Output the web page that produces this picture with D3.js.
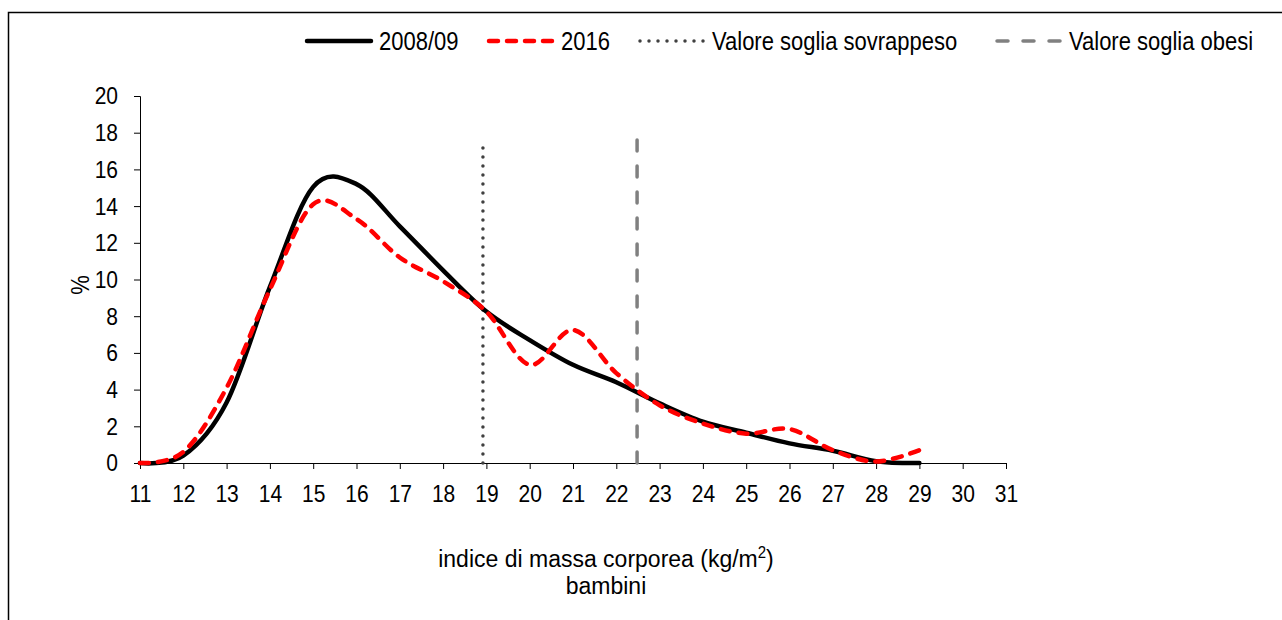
<!DOCTYPE html>
<html>
<head>
<meta charset="utf-8">
<script src="https://cdn.jsdelivr.net/npm/d3@7"></script>
<style>
  body { margin: 0; background: #fff; }
  svg text { font-family: "Liberation Sans", Arial, sans-serif; fill: #000; }
</style>
</head>
<body>
<div id="chart"></div>
<script>
  // data
  let bmi = [11, 12, 13, 14, 15, 16, 17, 18, 19, 20, 21, 22, 23, 24, 25, 26, 27, 28, 29];
  let y2008 = [0, 0.4, 3.3, 9.6, 15.05, 15.2, 12.9, 10.5, 8.25, 6.7, 5.35, 4.4, 3.25, 2.25, 1.65, 1.07, 0.67, 0.1, 0];
  let y2016 = [0, 0.6, 4.1, 9.45, 14.1, 13.3, 11.2, 9.9, 8.25, 5.35, 7.25, 4.9, 3.15, 2.15, 1.6, 1.85, 0.7, 0.08, 0.7];
  let thresholdNames = ["Valore soglia sovrappeso", "Valore soglia obesi"];
  let thresholdX = [18.92, 22.48];
  let thresholdTop = [17.6, 18.15];
  let xTicks = d3.range(11, 32, 1);
  let yTicks = d3.range(0, 21, 2);

  let width = 1282, height = 620;
  let tickFont = 21, legendFont = 22, titleFont = 23;
  let stretchY = 1.16;   // the source text is a little taller than wide

  let svg = d3.select("#chart").append("svg")
              .attr("width", width)
              .attr("height", height);

  // stretch text vertically around its own middle
  let stretch = function(sel, s) {
    sel.each(function() {
      let b = this.getBBox();
      let cy = b.y + b.height / 2;
      d3.select(this).attr("transform", function() {
        let prev = d3.select(this).attr("transform") || "";
        return prev + " translate(0," + cy + ") scale(1," + s + ") translate(0," + (-cy) + ")";
      });
    });
  };

  // outer frame, runs off the right and bottom edges
  svg.append("rect")
     .attr("x", 8.5)
     .attr("y", 12.5)
     .attr("width", 1400)
     .attr("height", 800)
     .attr("fill", "none")
     .attr("stroke", "#000")
     .attr("stroke-width", 1.5);

  let x = d3.scaleLinear().domain([11, 31]).range([140, 1006]);
  let y = d3.scaleLinear().domain([0, 20]).range([463, 96]);

  // axes
  let xAxis = svg.append("g")
                 .attr("transform", "translate(0," + y(0) + ")")
                 .call(d3.axisBottom(x).tickValues(xTicks).tickSize(6).tickPadding(17).tickFormat(d3.format("d")));
  let yAxis = svg.append("g")
                 .attr("transform", "translate(" + x(11) + ",0)")
                 .call(d3.axisLeft(y).tickValues(yTicks).tickSize(6).tickPadding(16).tickFormat(d3.format("d")));

  [xAxis, yAxis].forEach(function(a) {
    a.select(".domain").attr("stroke", "#000").attr("stroke-width", 1);
    a.selectAll(".tick line").attr("stroke", "#000");
    a.selectAll("text").style("font-size", tickFont + "px")
     .style("font-family", "'Liberation Sans', Arial, sans-serif");
    stretch(a.selectAll("text"), stretchY);
  });

  // threshold lines
  let thStyles = [
    { color: "#404040", width: 3.5, dash: "0,9", cap: "round" },
    { color: "#808080", width: 3.5, dash: "11,15", cap: "round" }
  ];
  thresholdX.forEach(function(v, i) {
    svg.append("line")
       .attr("x1", x(v)).attr("x2", x(v))
       .attr("y1", y(0)).attr("y2", y(thresholdTop[i]))
       .attr("stroke", thStyles[i].color)
       .attr("stroke-width", thStyles[i].width)
       .attr("stroke-dasharray", thStyles[i].dash)
       .attr("stroke-linecap", thStyles[i].cap);
  });

  // smoothed series like Excel's
  let line = d3.line()
               .x(function(d) { return x(d[0]); })
               .y(function(d) { return y(d[1]); })
               .curve(d3.curveCatmullRom.alpha(0));

  svg.append("path")
     .datum(d3.zip(bmi, y2008))
     .attr("d", line)
     .attr("fill", "none")
     .attr("stroke", "#000")
     .attr("stroke-width", 4.5)
     .attr("stroke-linejoin", "round")
     .attr("stroke-linecap", "round");

  svg.append("path")
     .datum(d3.zip(bmi, y2016))
     .attr("d", line)
     .attr("fill", "none")
     .attr("stroke", "#ff0000")
     .attr("stroke-width", 4.5)
     .attr("stroke-dasharray", "9,9")
     .attr("stroke-linecap", "round");

  // axis titles
  let yTitle = svg.append("text")
     .attr("transform", "translate(88,285) rotate(-90)")
     .attr("text-anchor", "middle")
     .style("font-size", legendFont + "px")
     .text("%");

  let xt = svg.append("text")
              .attr("x", 606)
              .attr("y", 567)
              .attr("text-anchor", "middle")
              .style("font-size", titleFont + "px");
  xt.append("tspan").text("indice di massa corporea (kg/m");
  xt.append("tspan").attr("dy", -9).style("font-size", "15px").text("2");
  xt.append("tspan").attr("dy", 9).text(")");
  stretch(xt, 1.05);

  let sub = svg.append("text")
     .attr("x", 606)
     .attr("y", 594)
     .attr("text-anchor", "middle")
     .style("font-size", titleFont + "px")
     .text("bambini");
  stretch(sub, 1.05);

  // legend
  let legendItems = [
    { name: "2008/09", x: 305, color: "#000", width: 4.5, dash: null, cap: "round" },
    { name: "2016", x: 487, color: "#ff0000", width: 4.5, dash: "9,9", cap: "round" },
    { name: thresholdNames[0], x: 638, color: thStyles[0].color, width: 3.5, dash: thStyles[0].dash, cap: "round" },
    { name: thresholdNames[1], x: 995, color: thStyles[1].color, width: 3.5, dash: thStyles[1].dash, cap: "round" }
  ];

  let legend = svg.append("g").attr("class", "legend");
  let items = legend.selectAll("g.item")
                    .data(legendItems)
                    .enter()
                    .append("g")
                    .attr("class", "item")
                    .attr("transform", function(d) { return "translate(" + d.x + ",41)"; });

  items.append("line")
       .attr("x1", 2).attr("x2", 66)
       .attr("y1", 0).attr("y2", 0)
       .attr("stroke", function(d) { return d.color; })
       .attr("stroke-width", function(d) { return d.width; })
       .attr("stroke-dasharray", function(d) { return d.dash; })
       .attr("stroke-linecap", function(d) { return d.cap; });

  let legendText = items.append("text")
       .attr("x", 74)
       .attr("y", 8)
       .style("font-size", legendFont + "px")
       .text(function(d) { return d.name; });
  stretch(legendText, stretchY);
  stretch(yTitle, stretchY);
</script>
</body>
</html>
